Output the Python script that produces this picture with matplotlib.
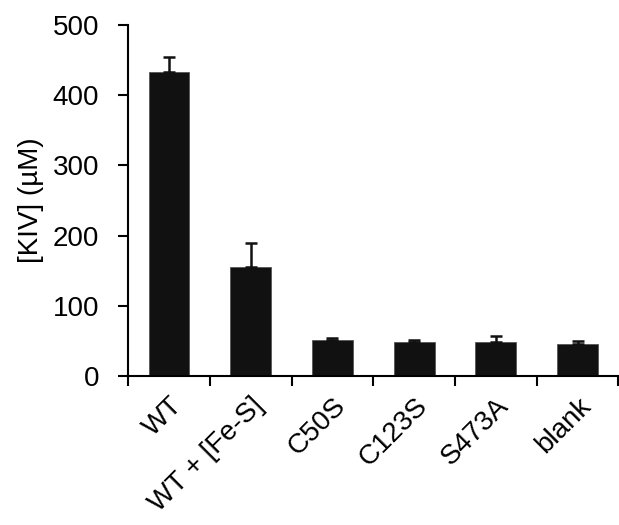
import matplotlib
matplotlib.use("Agg")
import matplotlib.pyplot as plt
import numpy as np

categories = ["WT", "WT + [Fe-S]", "C50S", "C123S", "S473A", "blank"]
values = [433, 155, 51, 48, 49, 45]
errors = [21, 34, 3, 3, 8, 5]

plt.rcParams["font.family"] = ["Liberation Sans", "DejaVu Sans"]

fig = plt.figure(figsize=(6.19, 5.25), dpi=100)
ax = fig.add_axes([0.207, 0.284, 0.792, 0.668])

x = np.arange(len(categories))
ax.bar(x, values, width=0.5, color="#111111", edgecolor="#555555", linewidth=0.6)
ax.errorbar(x, values, yerr=[np.zeros(len(errors)), errors], fmt="none",
            ecolor="#111111", elinewidth=1.8, capsize=4, capthick=1.8)

ax.set_xlim(-0.5, len(categories) - 0.5)
ax.set_ylim(0, 500)
ax.set_yticks(range(0, 501, 100))

ax.set_xticks(np.arange(-0.5, len(categories), 1.0))
ax.set_xticklabels([])
ax.set_xticks(x, minor=True)
ax.set_xticklabels(categories, minor=True, rotation=45, ha="right",
                   rotation_mode="anchor", fontsize=20)
ax.tick_params(axis="x", which="minor", length=0, pad=12)
ax.tick_params(axis="x", which="major", direction="out", length=7, width=1.5)
ax.tick_params(axis="y", direction="out", length=7, width=1.5, labelsize=20, pad=14)

for s in ["top", "right"]:
    ax.spines[s].set_visible(False)
for s in ["left", "bottom"]:
    ax.spines[s].set_linewidth(1.5)

ax.set_ylabel("[KIV] (µM)", fontsize=20, labelpad=6)

fig.savefig("out.png", dpi=100)
